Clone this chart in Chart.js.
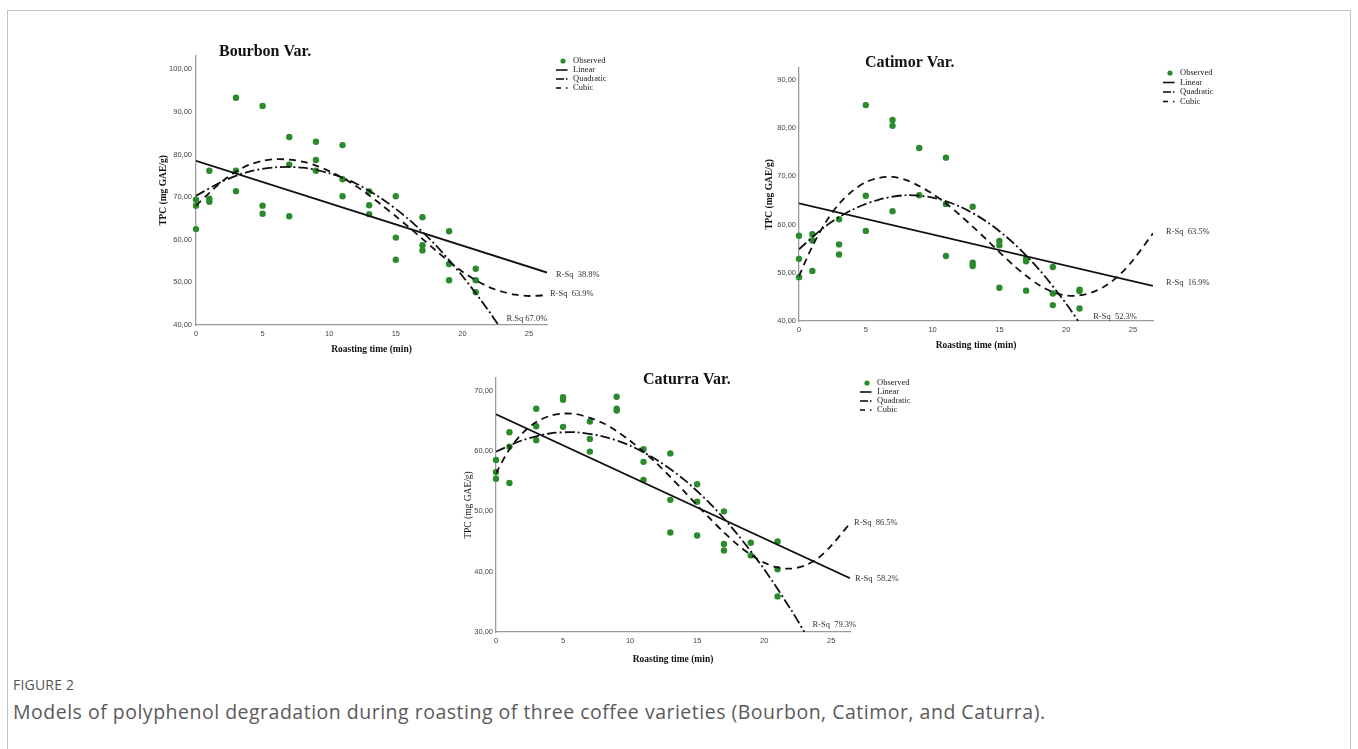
<!DOCTYPE html>
<html>
<head>
<meta charset="utf-8">
<script src="https://cdn.jsdelivr.net/npm/chart.js@4.4.1/dist/chart.umd.min.js"></script>
<style>
  html, body { margin: 0; padding: 0; background: #fff; }
  body { width: 1358px; height: 749px; position: relative; overflow: hidden; font-family: "Open Sans", sans-serif; }
  .frame { position: absolute; left: 7px; top: 10px; width: 1342px; height: 800px; border: 1px solid #c4c4c4; }
  canvas { position: absolute; }
  .fig-label { position: absolute; left: 13px; top: 675px; font-size: 14px; color: #555; letter-spacing: 0.2px; }
  .fig-caption { position: absolute; left: 13px; top: 698px; font-size: 19.5px; color: #5a5a5a; letter-spacing: 0.5px; }
</style>
</head>
<body>
<div class="frame"></div>
<canvas id="bourbon" width="480" height="334" style="left:150px;top:30px"></canvas>
<canvas id="catimor" width="475" height="320" style="left:755px;top:40px"></canvas>
<canvas id="caturra" width="478" height="318" style="left:452px;top:355px"></canvas>
<div class="fig-label">FIGURE 2</div>
<div class="fig-caption">Models of polyphenol degradation during roasting of three coffee varieties (Bourbon, Catimor, and Caturra).</div>
<script>
// ---- Bourbon ----
const bourbonObsX = [0,0,0, 1,1,1, 3,3,3, 5,5,5, 7,7,7, 9,9,9, 11,11,11, 13,13,13, 15,15,15, 17,17,17, 19,19,19, 21,21,21];
const bourbonObsY = [69.4,68.0,62.5, 76.2,69.6,68.9, 93.3,76.2,71.4, 91.4,68.0,66.1, 84.1,77.6,65.5, 83.0,78.7,76.2,
  82.2,74.2,70.2, 71.3,68.1,66.0, 70.2,60.5,55.3, 65.3,58.7,57.5, 62.0,54.3,50.5, 53.2,50.5,47.7];
const bourbonLinX = [0, 26.35];
const bourbonLinY = [78.5, 52.3];
const bourbonQuadX = [0, 2, 4, 6, 8, 10, 12, 14, 16, 18, 20, 22, 22.7];
const bourbonQuadY = [70.3, 73.7, 76.0, 77.0, 76.9, 75.6, 73.2, 69.5, 64.7, 58.7, 51.5, 43.2, 40.0];
const bourbonCubX = [0,1,2,3,4,5,6,7,8,9,10,11,12,13,14,15,16,17,18,19,20,21,22,23,24,25,26.35];
const bourbonCubY = [68.0,71.0,73.8,76.0,77.6,78.5,78.9,78.8,78.3,77.4,76.1,74.5,72.6,70.4,68.0,65.5,62.9,60.2,57.5,54.9,
  52.5,50.5,48.9,47.8,47.1,46.8,47.0];

// ---- Catimor ----
const catimorObsX = [0,0,0, 1,1,1, 3,3,3, 5,5,5, 7,7,7, 9,9, 11,11,11, 13,13,13, 15,15,15, 17,17,17, 19,19,19, 21,21,21];
const catimorObsY = [57.7,52.9,49.1, 58.0,56.7,50.4, 61.1,55.9,53.8, 84.8,66.0,58.7, 81.7,80.5,62.8, 75.9,66.1,
  73.9,64.3,53.5, 63.7,52.1,51.4, 56.6,55.7,46.9, 52.9,52.4,46.3, 51.2,45.7,43.3, 46.5,46.2,42.6];
const catimorLinX = [0, 26.5];
const catimorLinY = [64.4, 47.3];
const catimorQuadX = [0, 2, 4, 6, 8, 10, 12, 14, 16, 18, 20, 20.9];
const catimorQuadY = [54.9, 59.7, 63.1, 65.2, 66.1, 65.6, 63.8, 60.7, 56.3, 50.6, 43.6, 40.0];
const catimorCubX = [0,1,2,3,4,5,6,7,8,9,10,11,12,13,14,15,16,17,18,19,20,21,22,23,24,25,26.5];
const catimorCubY = [49.3,55.5,60.5,64.3,67.0,68.8,69.7,69.9,69.3,68.0,66.4,64.4,62.1,59.6,57.0,54.3,51.7,49.4,47.4,46.0,
  45.3,45.3,46.0,47.4,49.6,52.6,58.2];

// ---- Caturra ----
const caturraObsX = [0,0,0, 1,1,1, 3,3,3, 5,5,5, 7,7,7, 9,9,9, 11,11,11, 13,13,13, 15,15,15, 17,17,17, 19,19, 21,21,21];
const caturraObsY = [58.5,56.5,55.4, 63.1,60.7,54.7, 67.0,64.1,61.8, 68.9,68.5,64.0, 64.9,62.0,59.9, 69.0,67.0,66.7,
  60.3,58.2,55.2, 59.6,51.9,46.5, 54.5,51.6,46.0, 50.0,44.6,43.5, 44.8,42.7, 45.0,40.4,35.9];
const caturraLinX = [0, 26.4];
const caturraLinY = [66.1, 38.9];
const caturraQuadX = [0, 2, 4, 6, 8, 10, 12, 14, 16, 18, 20, 22, 23];
const caturraQuadY = [59.9, 61.8, 62.9, 63.1, 62.4, 60.9, 58.5, 55.3, 51.2, 46.2, 40.4, 33.7, 30.0];
const caturraCubX = [0,1,2,3,4,5,6,7,8,9,10,11,12,13,14,15,16,17,18,19,20,21,22,23,24,25,26.4];
const caturraCubY = [56.3,60.3,63.0,64.8,65.8,66.2,66.1,65.5,64.6,63.3,61.7,59.9,57.9,55.7,53.4,51.0,48.7,46.5,44.5,42.8,
  41.5,40.7,40.5,41.0,42.2,44.3,48.0];

const xTicks = [0, 5, 10, 15, 20, 25];

const GREEN = '#2b8a2b';
const INK = '#111';
const SERIF = '"Liberation Serif", "Times New Roman", serif';
const SANS = '"Liberation Sans", Arial, sans-serif';
const DASH = [7, 5];
const DASHDOT = [10, 3, 2, 3];

const pairs = (xs, ys) => xs.map((x, i) => ({ x, y: ys[i] }));

// titles, legend and R-Sq labels drawn next to the plot
const annotate = {
  id: 'annotate',
  afterDraw(chart, args, o) {
    const { ctx, chartArea: a, scales: { x, y } } = chart;
    const ds = chart.data.datasets;
    ctx.save();
    ctx.textAlign = 'left';
    ctx.textBaseline = 'middle';

    ctx.fillStyle = INK;
    ctx.font = 'bold 16px ' + SERIF;
    ctx.fillText(o.title, a.left + o.titleDx, a.top + o.titleDy);

    // legend
    const lx = a.right + o.legendDx;
    const ly = a.top + o.legendDy;
    ctx.font = '8.5px ' + SERIF;
    ctx.fillStyle = GREEN;
    ctx.beginPath();
    ctx.arc(lx, ly, 2.6, 0, Math.PI * 2);
    ctx.fill();
    ctx.fillStyle = '#222';
    ctx.fillText(ds[0].label, lx + 10, ly);
    ctx.strokeStyle = INK;
    ctx.lineWidth = 1.6;
    for (let i = 1; i < 4; i++) {
      const yy = ly + o.legendStep * i;
      const segs = i === 1 ? [[-7, 4.5]] : i === 2 ? [[-7, 1], [3, 4.5]] : [[-7, -2], [3, 4.5]];
      segs.forEach(([s, e]) => {
        ctx.beginPath();
        ctx.moveTo(lx + s, yy);
        ctx.lineTo(lx + e, yy);
        ctx.stroke();
      });
      ctx.fillText(ds[i].label, lx + 10, yy);
    }

    // R-Sq labels at the end of each fit
    ctx.font = '8.5px ' + SERIF;
    ctx.fillStyle = '#333';
    o.rsq.forEach(r => {
      const pts = ds[r.ds].data;
      const last = pts[pts.length - 1];
      ctx.fillText(r.text, x.getPixelForValue(last.x) + r.dx, y.getPixelForValue(last.y) + r.dy);
    });
    ctx.restore();
  },
};

function makePanel(id, d, box) {
  return new Chart(document.getElementById(id), {
    type: 'scatter',
    data: {
      datasets: [
        { label: 'Observed', data: pairs(d.obsX, d.obsY), backgroundColor: GREEN, borderColor: GREEN,
          pointRadius: 3.2, borderWidth: 0, clip: false, order: 4 },
        { type: 'line', label: 'Linear', data: pairs(d.linX, d.linY), borderColor: INK, borderWidth: 1.8,
          pointRadius: 0, fill: false, order: 1 },
        { type: 'line', label: 'Quadratic', data: pairs(d.quadX, d.quadY), borderColor: INK, borderWidth: 1.8,
          borderDash: DASHDOT, pointRadius: 0, tension: 0.3, fill: false, order: 2 },
        { type: 'line', label: 'Cubic', data: pairs(d.cubX, d.cubY), borderColor: INK, borderWidth: 1.8,
          borderDash: DASH, pointRadius: 0, tension: 0.3, fill: false, order: 3 },
      ],
    },
    options: {
      responsive: false,
      animation: false,
      events: [],
      layout: { padding: { left: 0, top: box.padTop, right: box.padRight, bottom: box.padBottom } },
      plugins: {
        legend: { display: false },
        tooltip: { enabled: false },
        annotate: box.notes,
      },
      scales: {
        x: {
          type: 'linear', min: 0, max: d.xMax,
          afterFit(s) { s.height = box.xH; },
          afterBuildTicks(s) { s.ticks = xTicks.map(v => ({ value: v })); },
          grid: { display: false, drawTicks: false },
          border: { display: true, color: '#9a9a9a', width: 1.3 },
          ticks: { padding: 4, autoSkip: false, maxRotation: 0, color: '#444', font: { family: SANS, size: 7.5 } },
          title: { display: true, text: 'Roasting time (min)', color: INK,
            font: { family: SERIF, size: 9.5, weight: 'bold' }, padding: { top: 0, bottom: box.xTitlePad } },
        },
        y: {
          type: 'linear', min: d.yMin, max: d.yMax,
          afterFit(s) { s.width = box.yW; },
          grid: { display: false, drawTicks: false },
          border: { display: true, color: '#9a9a9a', width: 1.3 },
          ticks: { stepSize: 10, includeBounds: false, padding: box.yTickPad, color: '#444',
            font: { family: SANS, size: 7.5 }, callback: v => v.toFixed(2).replace('.', ',') },
          title: { display: true, text: 'TPC (mg GAE/g)', color: INK,
            font: { family: SERIF, size: 9.5, weight: box.yTitleWeight }, padding: { top: box.yTitlePad, bottom: 0 } },
        },
      },
    },
    plugins: [annotate],
  });
}

makePanel('bourbon', {
  obsX: bourbonObsX, obsY: bourbonObsY, linX: bourbonLinX, linY: bourbonLinY,
  quadX: bourbonQuadX, quadY: bourbonQuadY, cubX: bourbonCubX, cubY: bourbonCubY,
  xMax: 26.35, yMin: 40, yMax: 103.1,
}, {
  padTop: 26, padRight: 83, padBottom: 5, yW: 46, xH: 34, xTitlePad: 3.3, yTitlePad: 8.3, yTickPad: 4,
  yTitleWeight: 'bold',
  notes: {
    title: 'Bourbon Var.', titleDx: 23, titleDy: -4,
    legendDx: 16, legendDy: 5, legendStep: 9,
    rsq: [
      { ds: 1, text: 'R-Sq  38.8%', dx: 9, dy: 2 },
      { ds: 3, text: 'R-Sq  63.9%', dx: 3, dy: -1 },
      { ds: 2, text: 'R.Sq 67.0%', dx: 8, dy: -6 },
    ],
  },
});

makePanel('catimor', {
  obsX: catimorObsX, obsY: catimorObsY, linX: catimorLinX, linY: catimorLinY,
  quadX: catimorQuadX, quadY: catimorQuadY, cubX: catimorCubX, cubY: catimorCubY,
  xMax: 26.5, yMin: 40, yMax: 92.5,
}, {
  padTop: 28, padRight: 77, padBottom: 5, yW: 44, xH: 34, xTitlePad: 3.6, yTitlePad: 9.3, yTickPad: 3,
  yTitleWeight: 'bold',
  notes: {
    title: 'Catimor Var.', titleDx: 66, titleDy: -5,
    legendDx: 17, legendDy: 5, legendStep: 9.5,
    rsq: [
      { ds: 3, text: 'R-Sq  63.5%', dx: 13, dy: -2 },
      { ds: 1, text: 'R-Sq  16.9%', dx: 13, dy: -3 },
      { ds: 2, text: 'R-Sq  52.3%', dx: 15, dy: -4 },
    ],
  },
});

makePanel('caturra', {
  obsX: caturraObsX, obsY: caturraObsY, linX: caturraLinX, linY: caturraLinY,
  quadX: caturraQuadX, quadY: caturraQuadY, cubX: caturraCubX, cubY: caturraCubY,
  xMax: 26.4, yMin: 30, yMax: 72.1,
}, {
  padTop: 23, padRight: 80, padBottom: 5, yW: 44, xH: 36, xTitlePad: 2.3, yTitlePad: 10.3, yTickPad: 3,
  yTitleWeight: 'normal',
  notes: {
    title: 'Caturra Var.', titleDx: 147, titleDy: 2,
    legendDx: 17, legendDy: 5, legendStep: 9,
    rsq: [
      { ds: 3, text: 'R-Sq  86.5%', dx: 4, dy: -1 },
      { ds: 1, text: 'R-Sq  58.2%', dx: 5, dy: 0 },
      { ds: 2, text: 'R-Sq  79.3%', dx: 8, dy: -7 },
    ],
  },
});
</script>
</body>
</html>
